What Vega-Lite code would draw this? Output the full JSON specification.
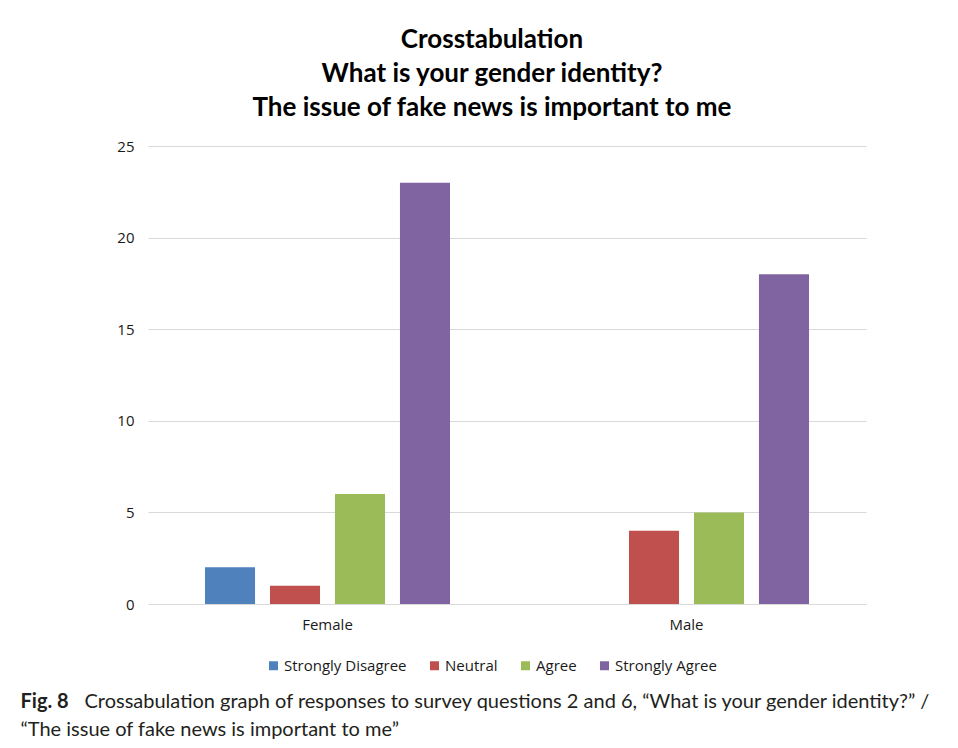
{
  "$schema": "https://vega.github.io/schema/vega-lite/v6.json",
  "width": 718,
  "height": 458,
  "autosize": {"type": "none"},
  "padding": {"left": 148, "top": 146, "right": 92, "bottom": 144},
  "background": "white",
  "title": {
    "text": ["Crosstabulation", "What is your gender identity?", "The issue of fake news is important to me"],
    "font": "Lato",
    "fontSize": 26,
    "fontWeight": "bold",
    "color": "#000000",
    "lineHeight": 34,
    "anchor": "middle",
    "frame": "group",
    "dx": -15,
    "offset": 18
  },
  "data": {
    "values": [
      {"gender": "Female", "response": "Strongly Disagree", "count": 2},
      {"gender": "Female", "response": "Neutral", "count": 1},
      {"gender": "Female", "response": "Agree", "count": 6},
      {"gender": "Female", "response": "Strongly Agree", "count": 23},
      {"gender": "Male", "response": "Strongly Disagree", "count": 0},
      {"gender": "Male", "response": "Neutral", "count": 4},
      {"gender": "Male", "response": "Agree", "count": 5},
      {"gender": "Male", "response": "Strongly Agree", "count": 18}
    ]
  },
  "layer": [
    {
      "mark": {"type": "bar"},
      "encoding": {
        "x": {
          "field": "gender",
          "type": "nominal",
          "scale": {"domain": ["Female", "Male"], "paddingInner": 0, "paddingOuter": 0},
          "axis": {
            "title": "Crossabulation graph of responses to survey questions 2 and 6, “What is your gender identity?” /",
            "titleFont": "Lato",
            "titleFontSize": 20,
            "titleFontWeight": "normal",
            "titleColor": "#231f20",
            "titleX": -64,
            "titleY": 103,
            "titleAlign": "left",
            "titleAnchor": "start",
            "titleBaseline": "alphabetic",
            "labelAngle": 0,
            "labelFont": "Open Sans",
            "labelFontSize": 15,
            "labelColor": "#1a1a1a",
            "labelPadding": 13,
            "ticks": false,
            "domain": false
          }
        },
        "xOffset": {
          "field": "response",
          "type": "nominal",
          "scale": {"domain": ["Strongly Disagree", "Neutral", "Agree", "Strongly Agree"], "paddingInner": 0.23, "paddingOuter": 0.877}
        },
        "y": {
          "field": "count",
          "type": "quantitative",
          "scale": {"domain": [0, 25]},
          "axis": {
            "values": [0, 5, 10, 15, 20, 25],
            "title": "Fig. 8",
            "titleFont": "Lato",
            "titleFontSize": 20,
            "titleFontWeight": "bold",
            "titleColor": "#231f20",
            "titleAngle": 0,
            "titleX": -128,
            "titleY": 561,
            "titleAlign": "left",
            "titleBaseline": "alphabetic",
            "labelFont": "Open Sans",
            "labelFontSize": 15,
            "labelColor": "#1a1a1a",
            "labelPadding": 14,
            "ticks": false,
            "domain": false,
            "grid": true,
            "gridColor": "#d9d9d9",
            "gridWidth": 1.2
          }
        },
        "color": {
          "field": "response",
          "type": "nominal",
          "scale": {
            "domain": ["Strongly Disagree", "Neutral", "Agree", "Strongly Agree"],
            "range": ["#4f81bd", "#c0504d", "#9bbb59", "#8064a2"]
          },
          "legend": {
            "orient": "none",
            "legendX": 118,
            "legendY": 512,
            "direction": "horizontal",
            "title": null,
            "symbolType": "square",
            "symbolSize": 81,
            "symbolStrokeWidth": 0,
            "labelFont": "Open Sans",
            "labelFontSize": 15,
            "labelColor": "#1a1a1a",
            "labelOffset": 3,
            "columnPadding": 20
          }
        }
      }
    },
    {
      "mark": {"type": "rule", "opacity": 0},
      "encoding": {
        "y": {
          "datum": 0,
          "type": "quantitative",
          "scale": {"domain": [0, 25]},
          "axis": {
            "orient": "right",
            "title": "“The issue of fake news is important to me”",
            "titleFont": "Lato",
            "titleFontSize": 20,
            "titleFontWeight": "normal",
            "titleColor": "#231f20",
            "titleAngle": 0,
            "titleX": -846,
            "titleY": 589,
            "titleAlign": "left",
            "titleBaseline": "alphabetic",
            "labels": false,
            "ticks": false,
            "domain": false,
            "grid": false
          }
        }
      }
    }
  ],
  "resolve": {"scale": {"y": "independent"}},
  "config": {"view": {"stroke": null}}
}
